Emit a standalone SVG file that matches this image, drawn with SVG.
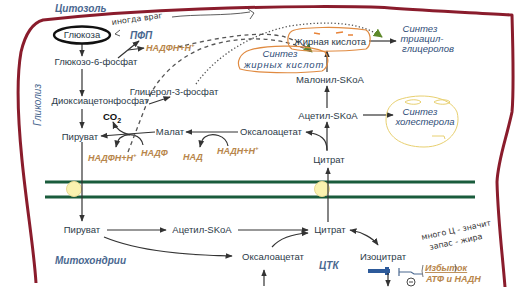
<svg xmlns="http://www.w3.org/2000/svg" width="516" height="290" viewBox="0 0 516 290">
<defs>
<marker id="ah" viewBox="0 0 10 10" refX="9" refY="5" markerWidth="6" markerHeight="6" orient="auto-start-reverse"><path d="M0,1 L10,5 L0,9 z" fill="#333"/></marker>
<marker id="ag" viewBox="0 0 10 10" refX="9" refY="5" markerWidth="7" markerHeight="7" orient="auto"><path d="M0,0 L10,5 L0,10 z" fill="#5e8a2a"/></marker>
<style>
.t{font-family:"Liberation Sans",Arial,sans-serif;font-size:9.5px;fill:#2b3a48}
.b{font-family:"Liberation Sans",Arial,sans-serif;font-size:10px;font-style:italic;font-weight:bold;fill:#4a6890}
.s{font-family:"Liberation Sans",Arial,sans-serif;font-size:9.5px;font-style:italic;fill:#2f4e78}
.o{font-family:"Liberation Sans",Arial,sans-serif;font-size:9px;font-style:italic;font-weight:bold;fill:#b8864b}
.h{font-family:"DejaVu Sans",sans-serif;font-size:8px;fill:#333}
.a{fill:none;stroke:#333;stroke-width:1.2;marker-end:url(#ah)}
.dash{fill:none;stroke:#555;stroke-width:1.3;stroke-dasharray:4,3.5}
.dot{fill:none;stroke:#555;stroke-width:1.3;stroke-dasharray:1.3,2.2}
.mem{stroke:#1a5c3c;stroke-width:3.2}
.ol{fill:none;stroke:#e08a40;stroke-width:1.2}
</style>
</defs>
<rect width="516" height="290" fill="#ffffff"/>
<!-- frame -->
<path d="M36,283 C34,250 27,210 22,160 C18,120 16,80 21,52 C25,35 32,23 43,20 C80,16 140,11 200,9 C280,6 360,6 390,8 C430,11 480,13 512,15 C513,50 514,90 512,112 C506,140 498,160 497,182 C498,220 502,250 505,287" fill="none" stroke="#8a1c2c" stroke-width="3" stroke-linejoin="round"/>
<!-- membrane -->
<g id="membrane">
<line class="mem" x1="45" y1="182" x2="475" y2="182"/>
<line class="mem" x1="45" y1="197" x2="475" y2="197"/>
<circle cx="74" cy="189" r="7.5" fill="#fbf3b0" stroke="#e8d890" stroke-width="1"/>
<circle cx="322" cy="189" r="7.5" fill="#fbf3b0" stroke="#e8d890" stroke-width="1"/>
</g>
<!-- region labels -->
<text class="b" x="55" y="12">Цитозоль</text>
<text class="b" x="41" y="105" transform="rotate(-90 41 105)" text-anchor="middle" style="font-weight:normal">Гликолиз</text>
<text class="b" x="55" y="264">Митохондрии</text>
<text class="b" x="319" y="269">ЦТК</text>
<!-- connectors -->
<g id="connectors">
<line class="a" x1="82" y1="43" x2="82" y2="56"/>
<line class="a" x1="82" y1="69" x2="82" y2="96"/>
<line class="a" x1="82" y1="109" x2="82" y2="128"/>
<line class="a" x1="82" y1="142" x2="82" y2="221"/>
<path class="a" d="M118,58 L139,41"/>
<path class="a" d="M128,50 L144,48"/>
<path class="a" d="M149,104 L170,97"/>
<path class="a" d="M155,132 L101,136"/>
<path class="a" d="M238,132 L186,132"/>
<path class="a" d="M130,135 C122,133 116,129 113,122"/>
<path class="a" d="M143,145 C141,134 128,132 120,138 C118,140 117,142 116,147"/>
<path class="a" d="M228,146 C226,135 212,132 205,137 C202,139 201,142 200,147"/>
<path class="a" d="M327,150 C327,140 322,134 306,132"/>
<line class="a" x1="327" y1="151" x2="327" y2="122"/>
<line class="a" x1="327" y1="108" x2="327" y2="86"/>
<line class="a" x1="327" y1="72" x2="327" y2="51"/>
<line class="a" x1="363" y1="115" x2="393" y2="115"/>
<line class="a" x1="369" y1="41" x2="396" y2="41"/>
<line class="a" x1="328" y1="222" x2="328" y2="168"/>
<line class="a" x1="107" y1="230" x2="166" y2="230"/>
<line class="a" x1="238" y1="230" x2="308" y2="230"/>
<path class="a" d="M104,237 C140,252 190,255 232,256"/>
<path class="a" d="M272,247 C280,238 292,234 308,233"/>
<path class="a" d="M350,230 C362,232 373,238 378,245" marker-start="url(#ah)"/>
<line class="a" x1="264" y1="286" x2="264" y2="270"/>
<!-- dashed/dotted flows -->
<path class="dash" d="M178,47 C215,38 260,30 285,37 C298,41 305,46 312,52" marker-end="url(#ag)"/>
<path class="dash" d="M128,152 L150,95 C162,72 185,52 215,44 C250,35 285,38 312,52"/>
<path class="dot" d="M196,84 C215,57 250,34 290,26 C330,20 362,23 382,37" marker-end="url(#ag)"/>
</g>
<!-- nodes -->
<g id="glucose"><ellipse cx="82" cy="35" rx="28" ry="8.5" fill="none" stroke="#111" stroke-width="2.4"/><text class="t" x="82" y="38" text-anchor="middle">Глюкоза</text></g>
<g id="g6p"><text class="t" x="96" y="65" text-anchor="middle">Глюкозо-6-фосфат</text></g>
<g id="ppp"><text class="b" x="130" y="39">ПФП</text></g>
<g id="nadph1"><text class="o" x="146" y="51">НАДФН+Н<tspan font-size="6" dy="-4">+</tspan></text></g>
<g id="g3p"><text class="t" x="174" y="95" text-anchor="middle">Глицерол-3-фосфат</text></g>
<g id="dhap"><text class="t" x="100" y="104" text-anchor="middle">Диоксиацетонфосфат</text></g>
<g id="pyr1"><text class="t" x="80" y="140" text-anchor="middle">Пируват</text></g>
<g id="co2"><text x="103" y="120" font-family="Liberation Sans,Arial,sans-serif" font-size="9.5" font-weight="bold" fill="#111">CO<tspan font-size="7" dy="3">2</tspan></text></g>
<g id="malate"><text class="t" x="170" y="135" text-anchor="middle">Малат</text></g>
<g id="nadph2"><text class="o" x="88" y="161">НАДФН+Н<tspan font-size="6" dy="-4">+</tspan></text></g>
<g id="nadp"><text class="o" x="141" y="156">НАДФ</text></g>
<g id="oaa1"><text class="t" x="271" y="135" text-anchor="middle">Оксалоацетат</text></g>
<g id="nad"><text class="o" x="183" y="160">НАД</text></g>
<g id="nadh"><text class="o" x="217" y="154">НАДН+Н<tspan font-size="6" dy="-4">+</tspan></text></g>
<g id="cit1"><text class="t" x="329" y="163" text-anchor="middle">Цитрат</text></g>
<g id="acoa1"><text class="t" x="328" y="119" text-anchor="middle">Ацетил-SKoA</text></g>
<g id="malcoa"><text class="t" x="330" y="83" text-anchor="middle">Малонил-SKoA</text></g>
<g id="fa"><path class="ol" d="M292,31 C300,27 340,26 366,30 C372,34 371,46 366,49 C340,52 305,52 292,49 C286,45 287,34 292,31 Z"/><path d="M314,33 l6,1 M336,33 l7,-1 M348,35 l5,0" stroke="#e8843a" stroke-width="1.6"/><text class="t" x="330" y="45" text-anchor="middle">Жирная кислота</text></g>
<g id="fas"><path class="ol" d="M250,50 C270,44 310,45 325,52 C330,58 328,68 322,71 C295,74 255,73 240,69 C236,62 240,53 250,50 Z"/><text class="s" x="280" y="57" text-anchor="middle">Синтез</text><text class="s" x="284" y="68" text-anchor="middle" letter-spacing="0.8">жирных кислот</text></g>
<g id="tag"><text class="s" x="420" y="32" text-anchor="middle">Синтез</text><text class="s" x="422" y="42" text-anchor="middle">триацил-</text><text class="s" x="428" y="52" text-anchor="middle">глицеролов</text></g>
<g id="chol"><path d="M398,100 C420,92 450,96 457,112 C462,130 448,147 424,147 C400,147 386,135 386,120 C386,110 390,104 398,100 Z" fill="none" stroke="#e8d070" stroke-width="1"/><path d="M405,102 c4,-3 14,-3 16,0 c-2,3 -12,3 -16,0 M434,102 c4,-3 14,-3 16,0 c-2,3 -12,3 -16,0 M432,136 l12,0 l1,3" fill="none" stroke="#e8d070" stroke-width="1"/><text class="s" x="420" y="115" text-anchor="middle">Синтез</text><text class="s" x="425" y="125" text-anchor="middle">холестерола</text></g>
<g id="pyr2"><text class="t" x="82" y="233" text-anchor="middle">Пируват</text></g>
<g id="acoa2"><text class="t" x="202" y="233" text-anchor="middle">Ацетил-SKoA</text></g>
<g id="cit2"><text class="t" x="330" y="233" text-anchor="middle">Цитрат</text></g>
<g id="oaa2"><text class="t" x="273" y="260" text-anchor="middle">Оксалоацетат</text></g>
<g id="isocit"><text class="t" x="383" y="260" text-anchor="middle">Изоцитрат</text></g>
<g id="inhib">
<rect x="368" y="269" width="22" height="4" fill="#2d5a9a"/>
<rect x="385" y="267" width="4" height="8" fill="#2d5a9a"/>
<line class="a" x1="388" y1="273" x2="388" y2="286"/>
<path d="M399,268 v8 M399,272 h12 l3,2 h8" fill="none" stroke="#4a6890" stroke-width="1.2"/>
<circle cx="411" cy="282" r="4" fill="none" stroke="#333" stroke-width="0.9"/><line x1="409" y1="282" x2="413" y2="282" stroke="#333" stroke-width="0.9"/>
<path d="M423,265 q-2,6 0,12" fill="none" stroke="#555" stroke-width="0.8"/>
<text class="o" x="425" y="271" text-decoration="underline">Избыток</text>
<path d="M455,264 q2,4 0,8" fill="none" stroke="#555" stroke-width="0.8"/>
<text class="o" x="426" y="282">АТФ и НАДН</text>
</g>
<!-- handwritten notes -->
<g id="notes">
<text class="h" x="112" y="25" transform="rotate(-8 112 25)">иногда враг</text>
<path d="M120,30 l-5,4 l5,2" fill="none" stroke="#333" stroke-width="0.8"/>
<path d="M172,17 C195,14 225,16 250,12 M248,9 l6,4 l-4,6" fill="none" stroke="#333" stroke-width="0.8"/>
<text class="h" x="422" y="240" transform="rotate(-12 422 240)">много Ц - значит</text>
<text class="h" x="430" y="250" transform="rotate(-12 430 250)">запас - жира</text>
</g>
</svg>
